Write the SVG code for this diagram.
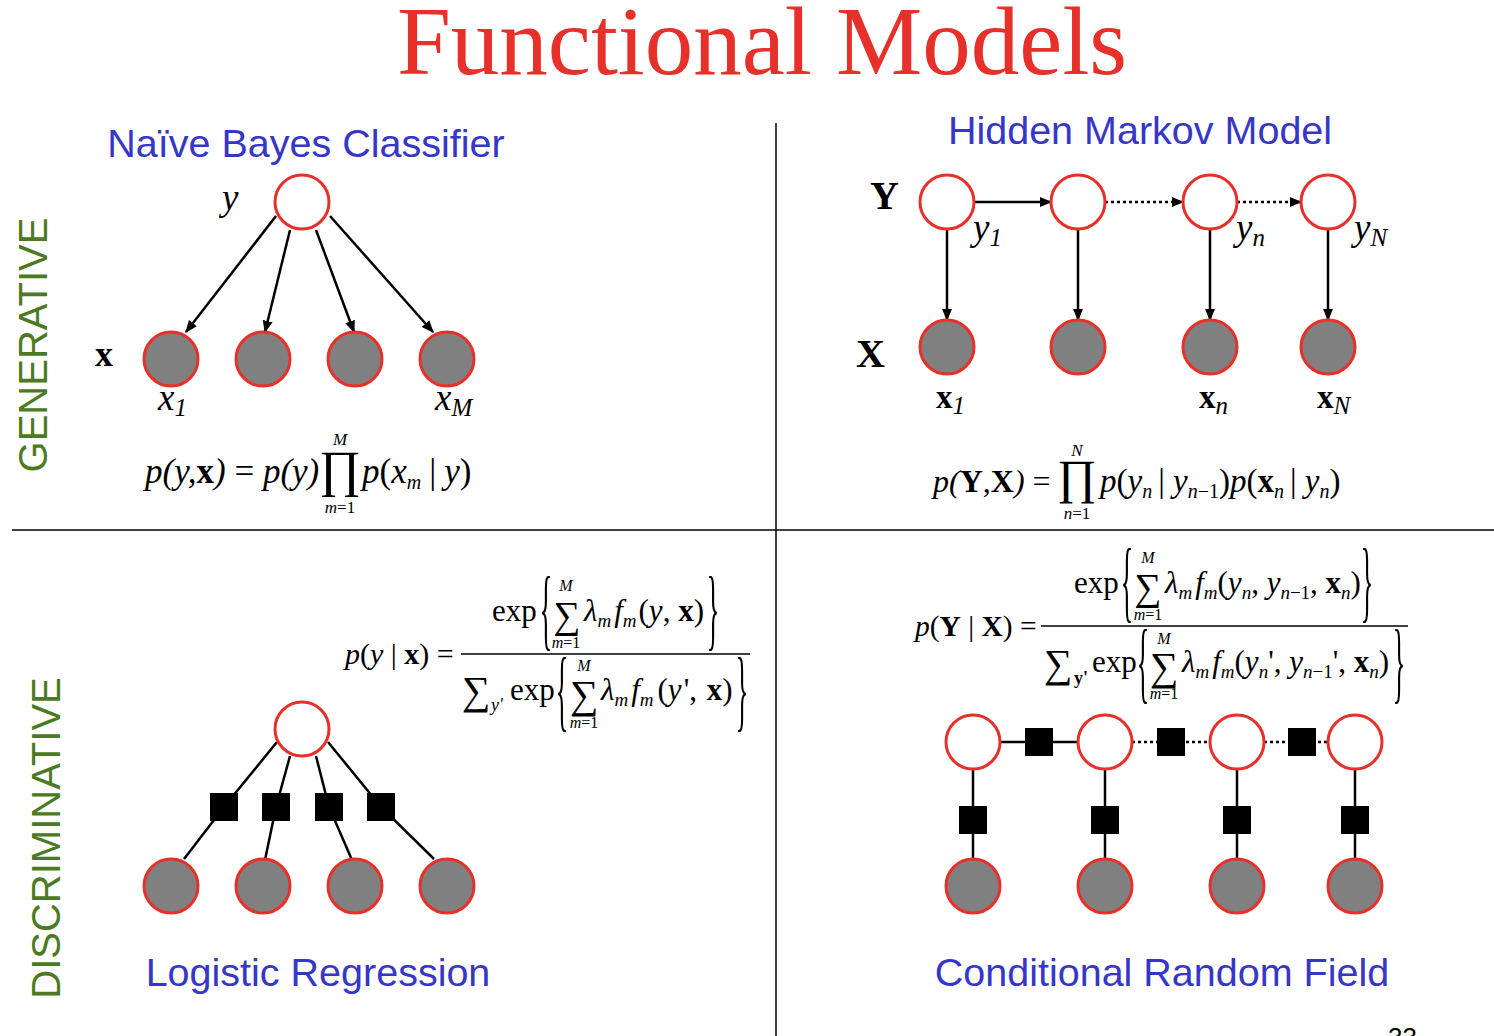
<svg xmlns="http://www.w3.org/2000/svg" width="1494" height="1036" viewBox="0 0 1494 1036">
<defs>
<style>
.title{font-family:"Liberation Serif","Times New Roman",serif;font-size:97px;fill:#e8302a}
.sec{font-family:"Liberation Sans",Arial,sans-serif;font-size:39.5px;fill:#3636c8}
.side{font-family:"Liberation Sans",Arial,sans-serif;font-size:40px;fill:#4c7a22}
.hid{fill:#fff;stroke:#e8302a;stroke-width:3}
.obs{fill:#808080;stroke:#e8302a;stroke-width:3}
.edge{stroke:#000;stroke-width:2.5;fill:none}
.dot{stroke:#000;stroke-width:2.5;fill:none;stroke-dasharray:3 3}
.fac{fill:#000}
.div{stroke:#000;stroke-width:1.5}
.m{font-family:"Liberation Serif","Times New Roman",serif;font-size:31px;fill:#000}
.i{font-style:italic}
.b{font-weight:bold}
.lab{font-family:"Liberation Serif","Times New Roman",serif;font-size:37px;font-style:italic;fill:#000}
.bl{font-family:"Liberation Serif","Times New Roman",serif;font-weight:bold;fill:#000}
.br{font-size:26px;text-anchor:middle}
</style>
<marker id="ah" viewBox="0 0 10 10" refX="9" refY="5" markerWidth="5" markerHeight="5" orient="auto" markerUnits="strokeWidth">
<path d="M0,1 L10,5 L0,9 z" fill="#000"/>
</marker>
</defs>
<rect width="1494" height="1036" fill="#fff"/>
<text class="title" x="762" y="74" text-anchor="middle">Functional Models</text>
<line class="div" x1="776" y1="123" x2="776" y2="1036"/>
<line class="div" x1="12" y1="530" x2="1494" y2="530"/>
<text class="sec" x="306" y="157" text-anchor="middle">Naïve Bayes Classifier</text>
<text class="sec" x="1140" y="144" text-anchor="middle">Hidden Markov Model</text>
<text class="sec" x="318" y="986" text-anchor="middle">Logistic Regression</text>
<text class="sec" x="1162" y="986" text-anchor="middle">Conditional Random Field</text>
<text class="side" transform="translate(47,345) rotate(-90)" text-anchor="middle">GENERATIVE</text>
<text class="side" transform="translate(60,838) rotate(-90)" text-anchor="middle">DISCRIMINATIVE</text>
<text x="1388" y="1046" font-family="Liberation Sans,Arial,sans-serif" font-size="26" fill="#000">33</text>

<g id="connectors">
<line class="edge" x1="276" y1="216" x2="186" y2="332" marker-end="url(#ah)"/>
<line class="edge" x1="290" y1="230" x2="265" y2="332" marker-end="url(#ah)"/>
<line class="edge" x1="316" y1="230" x2="354" y2="332" marker-end="url(#ah)"/>
<line class="edge" x1="330" y1="216" x2="433" y2="332" marker-end="url(#ah)"/>
<line class="edge" x1="974" y1="202" x2="1051" y2="202" marker-end="url(#ah)"/>
<line class="dot" x1="1105" y1="202" x2="1183" y2="202" marker-end="url(#ah)"/>
<line class="dot" x1="1237" y1="202" x2="1301" y2="202" marker-end="url(#ah)"/>
<line class="edge" x1="947" y1="229" x2="947" y2="320" marker-end="url(#ah)"/>
<line class="edge" x1="1078" y1="229" x2="1078" y2="320" marker-end="url(#ah)"/>
<line class="edge" x1="1210" y1="229" x2="1210" y2="320" marker-end="url(#ah)"/>
<line class="edge" x1="1328" y1="229" x2="1328" y2="320" marker-end="url(#ah)"/>
<polyline class="edge" points="277,742 224,807 184,859"/>
<polyline class="edge" points="290,756 276,807 265,860"/>
<polyline class="edge" points="316,756 329,807 352,860"/>
<polyline class="edge" points="328,742 381,807 434,859"/>
<line class="edge" x1="1000" y1="742" x2="1078" y2="742"/>
<line class="dot" x1="1132" y1="742" x2="1210" y2="742"/>
<line class="dot" x1="1264" y1="742" x2="1328" y2="742"/>
<line class="edge" x1="973" y1="769" x2="973" y2="859"/>
<line class="edge" x1="1105" y1="769" x2="1105" y2="859"/>
<line class="edge" x1="1237" y1="769" x2="1237" y2="859"/>
<line class="edge" x1="1355" y1="769" x2="1355" y2="859"/>
</g>

<g id="nb-y"><circle class="hid" cx="302" cy="202" r="27"/><text class="lab" x="222" y="210">y</text></g>
<g id="nb-x1"><circle class="obs" cx="171" cy="359" r="27"/><text class="lab" x="158" y="410">x<tspan dy="6" font-size="25">1</tspan></text></g>
<g id="nb-x2"><circle class="obs" cx="263" cy="359" r="27"/></g>
<g id="nb-x3"><circle class="obs" cx="355" cy="359" r="27"/></g>
<g id="nb-xM"><circle class="obs" cx="447" cy="359" r="27"/><text class="lab" x="435" y="410">x<tspan dy="6" font-size="25">M</tspan></text></g>
<text class="bl" x="95" y="366" font-size="36">x</text>

<g id="hmm-y1"><circle class="hid" cx="947" cy="202" r="27"/><text class="lab" x="973" y="240">y<tspan dy="6" font-size="25">1</tspan></text></g>
<g id="hmm-y2"><circle class="hid" cx="1078" cy="202" r="27"/></g>
<g id="hmm-yn"><circle class="hid" cx="1210" cy="202" r="27"/><text class="lab" x="1236" y="240">y<tspan dy="6" font-size="25">n</tspan></text></g>
<g id="hmm-yN"><circle class="hid" cx="1328" cy="202" r="27"/><text class="lab" x="1354" y="240">y<tspan dy="6" font-size="25">N</tspan></text></g>
<g id="hmm-x1"><circle class="obs" cx="947" cy="347" r="27"/><text class="bl" x="936" y="408" font-size="33">x<tspan dy="6" font-size="25" font-weight="normal" font-style="italic">1</tspan></text></g>
<g id="hmm-x2"><circle class="obs" cx="1078" cy="347" r="27"/></g>
<g id="hmm-xn"><circle class="obs" cx="1210" cy="347" r="27"/><text class="bl" x="1199" y="408" font-size="33">x<tspan dy="6" font-size="25" font-weight="normal" font-style="italic">n</tspan></text></g>
<g id="hmm-xN"><circle class="obs" cx="1328" cy="347" r="27"/><text class="bl" x="1317" y="408" font-size="33">x<tspan dy="6" font-size="25" font-weight="normal" font-style="italic">N</tspan></text></g>
<text class="bl" x="870" y="209" font-size="40">Y</text>
<text class="bl" x="856" y="367" font-size="40">X</text>

<g id="lr-y"><circle class="hid" cx="302" cy="729" r="27"/></g>
<g id="lr-f1"><rect class="fac" x="210" y="793" width="28" height="28"/></g>
<g id="lr-f2"><rect class="fac" x="262" y="793" width="28" height="28"/></g>
<g id="lr-f3"><rect class="fac" x="315" y="793" width="28" height="28"/></g>
<g id="lr-f4"><rect class="fac" x="367" y="793" width="28" height="28"/></g>
<g id="lr-x1"><circle class="obs" cx="171" cy="886" r="27"/></g>
<g id="lr-x2"><circle class="obs" cx="263" cy="886" r="27"/></g>
<g id="lr-x3"><circle class="obs" cx="355" cy="886" r="27"/></g>
<g id="lr-x4"><circle class="obs" cx="447" cy="886" r="27"/></g>

<g id="crf-y1"><circle class="hid" cx="973" cy="742" r="27"/></g>
<g id="crf-y2"><circle class="hid" cx="1105" cy="742" r="27"/></g>
<g id="crf-y3"><circle class="hid" cx="1237" cy="742" r="27"/></g>
<g id="crf-y4"><circle class="hid" cx="1355" cy="742" r="27"/></g>
<g id="crf-h1"><rect class="fac" x="1025" y="728" width="28" height="28"/></g>
<g id="crf-h2"><rect class="fac" x="1157" y="728" width="28" height="28"/></g>
<g id="crf-h3"><rect class="fac" x="1288" y="728" width="28" height="28"/></g>
<g id="crf-v1"><rect class="fac" x="959" y="806" width="28" height="28"/></g>
<g id="crf-v2"><rect class="fac" x="1091" y="806" width="28" height="28"/></g>
<g id="crf-v3"><rect class="fac" x="1223" y="806" width="28" height="28"/></g>
<g id="crf-v4"><rect class="fac" x="1341" y="806" width="28" height="28"/></g>
<g id="crf-x1"><circle class="obs" cx="973" cy="886" r="27"/></g>
<g id="crf-x2"><circle class="obs" cx="1105" cy="886" r="27"/></g>
<g id="crf-x3"><circle class="obs" cx="1237" cy="886" r="27"/></g>
<g id="crf-x4"><circle class="obs" cx="1355" cy="886" r="27"/></g>

<!-- NB formula -->
<g id="nb-formula" class="m" style="font-size:35px">
<text x="145" y="483"><tspan class="i">p(y,</tspan><tspan class="b">x</tspan><tspan class="i">)</tspan> = <tspan class="i">p(y)</tspan></text>
<text x="340" y="486" font-size="51" text-anchor="middle">∏</text>
<text x="340" y="445" class="i" font-size="17" text-anchor="middle">M</text>
<text x="340" y="513" font-size="17" text-anchor="middle"><tspan class="i">m</tspan>=1</text>
<text x="362" y="483"><tspan class="i">p</tspan>(<tspan class="i">x</tspan><tspan class="i" font-size="20" dy="6">m</tspan><tspan dy="-6" dx="8">|</tspan><tspan class="i" dx="8">y</tspan>)</text>
</g>

<!-- HMM formula -->
<g id="hmm-formula" class="m" style="font-size:32px">
<text x="933" y="492"><tspan class="i">p</tspan><tspan class="i">(</tspan><tspan class="b">Y</tspan>,<tspan class="b">X</tspan><tspan class="i">)</tspan> =</text>
<text x="1077" y="493" font-size="48" text-anchor="middle">∏</text>
<text x="1077" y="456" class="i" font-size="17" text-anchor="middle">N</text>
<text x="1077" y="519" font-size="17" text-anchor="middle"><tspan class="i">n</tspan>=1</text>
<text x="1100" y="492" font-size="33"><tspan class="i">p</tspan>(<tspan class="i">y</tspan><tspan class="i" font-size="20" dy="6">n</tspan><tspan dy="-6" dx="6">|</tspan> <tspan class="i">y</tspan><tspan font-size="20" dy="6"><tspan class="i">n</tspan>−1</tspan><tspan dy="-6">)</tspan><tspan class="i">p</tspan>(<tspan class="b">x</tspan><tspan class="i" font-size="20" dy="6">n</tspan><tspan dy="-6" dx="6">|</tspan> <tspan class="i">y</tspan><tspan class="i" font-size="20" dy="6">n</tspan><tspan dy="-6">)</tspan></text>
</g>

<!-- LR formula -->
<g id="lr-formula" class="m">
<text x="345" y="664" font-size="30"><tspan class="i">p</tspan>(<tspan class="i">y</tspan> | <tspan class="b">x</tspan>) =</text>
<line x1="461" y1="654" x2="750" y2="654" stroke="#000" stroke-width="1.3"/>
<text x="492" y="621">exp</text>
<text class="br" transform="translate(546,639) scale(1,3.5)">{</text>
<text x="567" y="628" font-size="38" text-anchor="middle">∑</text>
<text x="566" y="591" class="i" font-size="16" text-anchor="middle">M</text>
<text x="566" y="648" font-size="16" text-anchor="middle"><tspan class="i">m</tspan>=1</text>
<text x="584" y="621"><tspan class="i">λ</tspan><tspan class="i" font-size="19" dy="6">m</tspan><tspan class="i" dy="-6" dx="3">f</tspan><tspan class="i" font-size="19" dy="6">m</tspan><tspan dy="-6" dx="2">(</tspan><tspan class="i">y</tspan>, <tspan class="b">x</tspan>)</text>
<text class="br" transform="translate(713,639) scale(1,3.5)">}</text>
<text x="476" y="704" font-size="40" text-anchor="middle">∑</text>
<text x="491" y="711" class="i" font-size="18">y'</text>
<text x="510" y="700">exp</text>
<text class="br" transform="translate(562,720) scale(1,3.5)">{</text>
<text x="584" y="708" font-size="40" text-anchor="middle">∑</text>
<text x="584" y="671" class="i" font-size="16" text-anchor="middle">M</text>
<text x="584" y="728" font-size="16" text-anchor="middle"><tspan class="i">m</tspan>=1</text>
<text x="601" y="700"><tspan class="i">λ</tspan><tspan class="i" font-size="19" dy="6">m</tspan><tspan class="i" dy="-6" dx="3">f</tspan><tspan class="i" font-size="19" dy="6">m</tspan><tspan dy="-6" dx="4">(</tspan><tspan class="i">y</tspan><tspan dx="2">',</tspan> <tspan class="b" dx="2">x</tspan>)</text>
<text class="br" transform="translate(742,720) scale(1,3.5)">}</text>
</g>

<!-- CRF formula -->
<g id="crf-formula" class="m">
<text x="915" y="636" font-size="29.5"><tspan class="i">p</tspan>(<tspan class="b">Y</tspan> | <tspan class="b">X</tspan>) =</text>
<line x1="1041" y1="626" x2="1408" y2="626" stroke="#000" stroke-width="1.3"/>
<text x="1074" y="593">exp</text>
<text class="br" transform="translate(1127,611) scale(1,3.5)">{</text>
<text x="1148" y="600" font-size="38" text-anchor="middle">∑</text>
<text x="1148" y="563" class="i" font-size="16" text-anchor="middle">M</text>
<text x="1148" y="620" font-size="16" text-anchor="middle"><tspan class="i">m</tspan>=1</text>
<text x="1165" y="593"><tspan class="i">λ</tspan><tspan class="i" font-size="19" dy="6">m</tspan><tspan class="i" dy="-6" dx="3">f</tspan><tspan class="i" font-size="19" dy="6">m</tspan><tspan dy="-6">(</tspan><tspan class="i">y</tspan><tspan class="i" font-size="19" dy="6">n</tspan><tspan dy="-6">, </tspan><tspan class="i">y</tspan><tspan font-size="19" dy="6"><tspan class="i">n</tspan>−1</tspan><tspan dy="-6">, </tspan><tspan class="b">x</tspan><tspan class="i" font-size="19" dy="6">n</tspan><tspan dy="-6">)</tspan></text>
<text class="br" transform="translate(1367,611) scale(1,3.5)">}</text>
<text x="1058" y="677" font-size="40" text-anchor="middle">∑</text>
<text x="1074" y="684" class="b" font-size="18">y'</text>
<text x="1092" y="672">exp</text>
<text class="br" transform="translate(1143,692) scale(1,3.5)">{</text>
<text x="1164" y="680" font-size="40" text-anchor="middle">∑</text>
<text x="1164" y="644" class="i" font-size="16" text-anchor="middle">M</text>
<text x="1164" y="699" font-size="16" text-anchor="middle"><tspan class="i">m</tspan>=1</text>
<text x="1182" y="672"><tspan class="i">λ</tspan><tspan class="i" font-size="19" dy="6">m</tspan><tspan class="i" dy="-6" dx="3">f</tspan><tspan class="i" font-size="19" dy="6">m</tspan><tspan dy="-6">(</tspan><tspan class="i">y</tspan><tspan class="i" font-size="19" dy="6">n</tspan><tspan dy="-6">', </tspan><tspan class="i">y</tspan><tspan font-size="19" dy="6"><tspan class="i">n</tspan>−1</tspan><tspan dy="-6">', </tspan><tspan class="b">x</tspan><tspan class="i" font-size="19" dy="6">n</tspan><tspan dy="-6">)</tspan></text>
<text class="br" transform="translate(1399,692) scale(1,3.5)">}</text>
</g>
</svg>
